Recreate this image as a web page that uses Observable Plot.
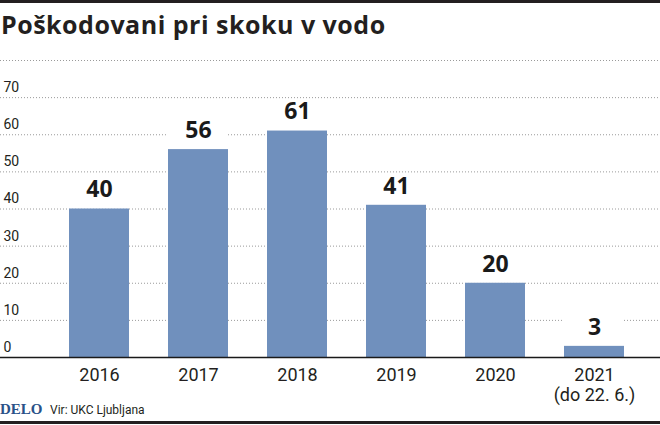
<!DOCTYPE html>
<html>
<head>
<meta charset="utf-8">
<script src="https://cdn.jsdelivr.net/npm/d3@7"></script>
<script src="https://cdn.jsdelivr.net/npm/@observablehq/plot@0.6"></script>
<style>
  html, body { margin: 0; padding: 0; background: #fff; }
  #wrap { width: 660px; position: relative; background: #fff; }
  .bar { height: 3px; background: #231f20; }
  #title { font-family: "Open Sans", sans-serif; font-weight: 700; font-size: 25px; letter-spacing: 0.5px; line-height: 28px; color: #231f20; padding: 7px 0 0 1px; height: 42px; box-sizing: content-box; margin: 0; white-space: nowrap; }
  #chart svg { display: block; }
  #footer { height: 19px; position: relative; }
  #footer .delo { position: absolute; left: 0; top: -1px; font-family: "Liberation Serif", serif; font-weight: 700; font-size: 15px; color: #2a5288; line-height: 16px; }
  #footer .src { position: absolute; left: 50px; top: 1px; font-family: "Liberation Sans Narrow", "Roboto", sans-serif; font-size: 12px; color: #231f20; line-height: 14px; }
</style>
</head>
<body>
<div id="wrap">
  <div class="bar"></div>
  <div id="title">Poškodovani pri skoku v vodo</div>
  <div id="chart"></div>
  <div id="footer"><span class="delo">DELO</span><span class="src">Vir: UKC Ljubljana</span></div>
  <div class="bar"></div>
</div>
<script>
const years = ["2016", "2017", "2018", "2019", "2020", "2021"];
const injured = [40, 56, 61, 41, 20, 3];
const yearLabels = ["2016", "2017", "2018", "2019", "2020", "2021\n(do 22. 6.)"];
const yTickLabels = [0, 10, 20, 30, 40, 50, 60, 70];
const gridValues = [10, 20, 30, 40, 50, 60, 70, 80];

const data = years.map((y, i) => ({year: y, value: injured[i]}));

const narrow = "'Liberation Sans Narrow', Roboto, sans-serif";

const chart = Plot.plot({
  width: 660,
  height: 350,
  marginTop: 8,
  marginBottom: 45,
  marginLeft: 0,
  marginRight: 0,
  x: {domain: years, paddingInner: 0.394, paddingOuter: 0.53, align: 0.66, axis: null, label: null},
  y: {domain: [0, 80], axis: null, label: null},
  style: {fontFamily: narrow, color: "#231f20", background: "#fff", overflow: "visible"},
  marks: [
    Plot.ruleY(gridValues, {stroke: "#9a9a9a", strokeDasharray: "1,2", strokeWidth: 1}),
    Plot.barY(data, {x: "year", y1: "value", y2: d => d.value + 8, fill: "#fff"}),
    Plot.barY(data, {x: "year", y: "value", fill: "#7090bd"}),
    Plot.ruleY([0], {stroke: "#1a1a1a", strokeWidth: 1.5}),
    Plot.text(data, {x: "year", y: "value", text: d => String(d.value), dy: -19, fontSize: 23, fontWeight: "bold", fontFamily: "'Open Sans', sans-serif", fill: "#1a1a1a"}),
    Plot.text(yTickLabels, {y: d => d, frameAnchor: "left", textAnchor: "start", dx: 3, dy: -10, fontSize: 14, fill: "#231f20"}),
    Plot.axisX({tickSize: 0, tickPadding: 9, fontSize: 18, lineHeight: 1.12, fill: "#231f20", label: null, tickFormat: d => yearLabels[years.indexOf(d)]})
  ]
});
document.getElementById("chart").append(chart);
</script>
</body>
</html>
